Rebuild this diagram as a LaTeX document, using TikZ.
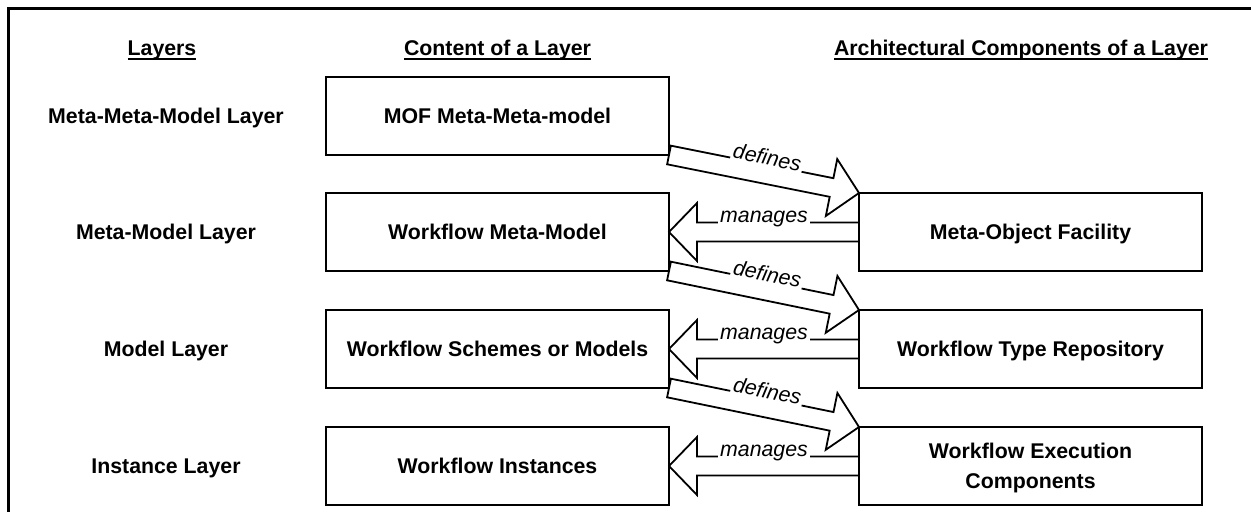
\documentclass[tikz,border=0pt]{standalone}
\usepackage{fontspec}
\setmainfont{Liberation Sans}
\usetikzlibrary{calc}

% header text with a rule just under the baseline
\newcommand\hdrline[1]{\setbox0\hbox{#1}\rlap{\rule[-2.5pt]{\wd0}{1pt}}\box0}

\newcommand\shafthalf{4.75pt}
\newcommand\headhalf{14.5pt}
% hollow block arrow from #1 (tail centre) to #2 (tip); #3 prefixes the corner coordinates
\newcommand\blockarrow[3]{%
  \coordinate (#3-b) at ($(#2)!14pt!(#1)$);
  \draw[arrowline]
        ($(#1)!\shafthalf!90:(#2)$) coordinate (#3-tl)
     -- ($(#3-b)!\shafthalf!90:(#2)$)
     -- ($(#3-b)!\headhalf!90:(#2)$)
     -- (#2)
     -- ($(#3-b)!\headhalf!-90:(#2)$)
     -- ($(#3-b)!\shafthalf!-90:(#2)$)
     -- ($(#1)!\shafthalf!-90:(#2)$) coordinate (#3-tr)
     -- cycle;
  \coordinate (#3-pl) at ($(#2)!\shafthalf!-90:(#1)$);
  \coordinate (#3-pr) at ($(#2)!\shafthalf!90:(#1)$);
}

\tikzset{
  x=0.5pt, y=-0.5pt,
  every node/.style={font=\fontsize{10.65}{12.5}\selectfont},
  box/.style={draw, line width=1pt, outer sep=0pt, minimum width=171.5pt,
    minimum height=39pt, inner sep=0pt, text height=7.65pt, text depth=0pt,
    font=\fontsize{10.65}{15}\selectfont\bfseries},
  rowtxt/.style={inner sep=0pt, text height=7.65pt, text depth=0pt,
    font=\fontsize{10.65}{12.5}\selectfont\bfseries},
  hdr/.style={inner sep=0pt, anchor=base,
    font=\fontsize{10.65}{12.5}\selectfont\bfseries},
  arrowline/.style={draw, line width=0.9pt, line join=miter},
  lbl/.style={fill=white, inner xsep=1pt, inner ysep=1pt, anchor=base,
    sloped, midway, font=\fontsize{10.65}{12.5}\selectfont\itshape},
}

\begin{document}
\begin{tikzpicture}
\useasboundingbox (0,0) rectangle (1251,512);

% frame
\coordinate (fa) at (8,512);
\coordinate (fb) at (8,8.5);
\coordinate (fc) at (1251,8.5);
\draw[line width=1.5pt] (fa) -- (fb) -- (fc);

% column headers
\node[hdr] (h1) at (162,55.5) {\hdrline{Layers}};
\node[hdr] (h2) at (497.5,55.5) {\hdrline{Content of a Layer}};
\node[hdr] (h3) at (1021,55.5) {\hdrline{Architectural Components of a Layer}};

% layer names
\node[rowtxt] (n1) at (166,116) {Meta-Meta-Model Layer};
\node[rowtxt] (n2) at (166,232) {Meta-Model Layer};
\node[rowtxt] (n3) at (166,349) {Model Layer};
\node[rowtxt] (n4) at (166,466) {Instance Layer};

% layer contents
\node[box] (l1) at (497.5,116) {MOF Meta-Meta-model};
\node[box] (l2) at (497.5,232) {Workflow Meta-Model};
\node[box] (l3) at (497.5,349) {Workflow Schemes or Models};
\node[box] (l4) at (497.5,466) {Workflow Instances};

% architectural components
\node[box] (r2) at (1030.5,232) {Meta-Object Facility};
\node[box] (r3) at (1030.5,349) {Workflow Type Repository};
\node[box, text height=22.65pt, text depth=0pt, align=center] (r4) at (1030.5,466)
  {Workflow Execution\\Components};

% defines arrows
\blockarrow{l1.south east}{r2.north west}{d1}
\path (d1-tl) -- (d1-pl) node[lbl] (d1t) {defines};
\blockarrow{l2.south east}{r3.north west}{d2}
\path (d2-tl) -- (d2-pl) node[lbl] (d2t) {defines};
\blockarrow{l3.south east}{r4.north west}{d3}
\path (d3-tl) -- (d3-pl) node[lbl] (d3t) {defines};

% manages arrows
\blockarrow{r2.west}{l2.east}{m1}
\path (m1-pr) -- (m1-tr) node[lbl] (m1t) {manages};
\blockarrow{r3.west}{l3.east}{m2}
\path (m2-pr) -- (m2-tr) node[lbl] (m2t) {manages};
\blockarrow{r4.west}{l4.east}{m3}
\path (m3-pr) -- (m3-tr) node[lbl] (m3t) {manages};
\end{tikzpicture}
\end{document}
